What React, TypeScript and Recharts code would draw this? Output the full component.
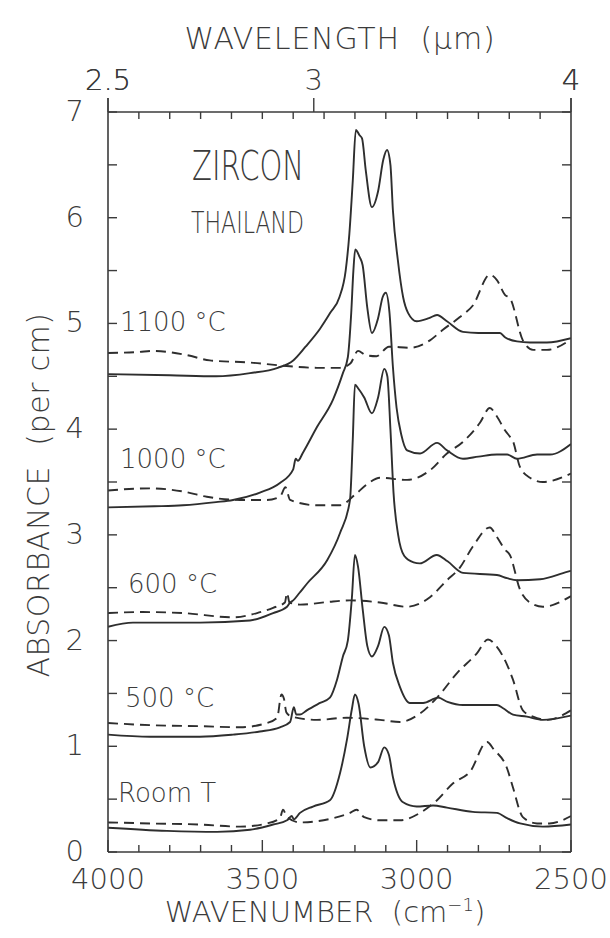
import React from 'react';
import { ComposedChart, Line, XAxis, YAxis } from 'recharts';

type P = [number, number];

// wavenumber (cm-1), absorbance (per cm, offset as plotted)
const room_solid: P[] = [
  [4000, 0.23], [3809, 0.2], [3647, 0.19], [3540, 0.21], [3465, 0.26], [3420, 0.3], [3405, 0.34], [3398, 0.31],
  [3378, 0.37], [3336, 0.43], [3281, 0.49], [3248, 0.75], [3226, 1.06], [3210, 1.35], [3200, 1.49], [3188, 1.4],
  [3170, 1.0], [3150, 0.8], [3125, 0.85], [3105, 0.99], [3090, 0.92], [3077, 0.71], [3044, 0.47], [3000, 0.43],
  [2947, 0.44], [2902, 0.42], [2818, 0.38], [2740, 0.37], [2707, 0.32], [2665, 0.27], [2591, 0.24], [2500, 0.26],
];
const room_dashed: P[] = [
  [4000, 0.28], [3864, 0.27], [3702, 0.26], [3572, 0.24], [3485, 0.27], [3443, 0.32], [3433, 0.4], [3420, 0.33],
  [3378, 0.28], [3271, 0.32], [3216, 0.37], [3195, 0.4], [3170, 0.33], [3119, 0.3], [3054, 0.3], [2989, 0.37],
  [2934, 0.49], [2882, 0.65], [2827, 0.76], [2772, 1.04], [2750, 0.97], [2707, 0.79], [2688, 0.61], [2656, 0.33],
  [2610, 0.27], [2570, 0.27], [2500, 0.34],
];
const c500_solid: P[] = [
  [4000, 1.11], [3864, 1.09], [3702, 1.09], [3595, 1.11], [3508, 1.14], [3443, 1.18], [3410, 1.23], [3398, 1.37],
  [3390, 1.3], [3378, 1.3], [3356, 1.34], [3313, 1.41], [3281, 1.46], [3258, 1.63], [3239, 1.85], [3223, 2.0],
  [3210, 2.4], [3200, 2.81], [3190, 2.7], [3175, 2.3], [3160, 1.95], [3145, 1.85], [3125, 1.95], [3105, 2.13],
  [3090, 2.05], [3077, 1.79], [3054, 1.56], [3022, 1.41], [2979, 1.41], [2931, 1.46], [2900, 1.42], [2850, 1.39],
  [2740, 1.39], [2720, 1.36], [2688, 1.3], [2643, 1.28], [2591, 1.25], [2500, 1.29],
];
const c500_dashed: P[] = [
  [4000, 1.22], [3864, 1.2], [3702, 1.19], [3572, 1.18], [3485, 1.22], [3452, 1.27], [3438, 1.49], [3430, 1.45],
  [3422, 1.32], [3404, 1.28], [3323, 1.25], [3226, 1.27], [3119, 1.25], [3054, 1.23], [2989, 1.31], [2931, 1.47],
  [2870, 1.69], [2805, 1.88], [2769, 2.01], [2740, 1.94], [2707, 1.77], [2688, 1.63], [2656, 1.34], [2623, 1.28],
  [2578, 1.25], [2500, 1.34],
];
const c600_solid: P[] = [
  [4000, 2.13], [3919, 2.17], [3702, 2.17], [3540, 2.19], [3465, 2.26], [3420, 2.32], [3410, 2.36], [3400, 2.38],
  [3380, 2.45], [3355, 2.54], [3290, 2.76], [3248, 3.02], [3216, 3.33], [3207, 3.9], [3200, 4.42], [3188, 4.38],
  [3170, 4.3], [3145, 4.15], [3125, 4.3], [3105, 4.57], [3095, 4.5], [3085, 4.0], [3075, 3.4], [3060, 3.0],
  [3040, 2.8], [3010, 2.74], [2990, 2.73], [2935, 2.81], [2900, 2.75], [2850, 2.64], [2740, 2.62], [2707, 2.59],
  [2675, 2.57], [2600, 2.58], [2513, 2.65], [2500, 2.66],
];
const c600_dashed: P[] = [
  [4000, 2.26], [3896, 2.27], [3757, 2.26], [3595, 2.22], [3517, 2.26], [3465, 2.31], [3427, 2.36], [3420, 2.45],
  [3412, 2.36], [3378, 2.34], [3271, 2.37], [3216, 2.38], [3119, 2.36], [3031, 2.32], [2957, 2.41], [2902, 2.57],
  [2860, 2.69], [2818, 2.89], [2763, 3.07], [2740, 2.98], [2714, 2.86], [2698, 2.81], [2665, 2.48], [2633, 2.36],
  [2591, 2.32], [2500, 2.42],
];
const c1000_solid: P[] = [
  [4000, 3.26], [3850, 3.27], [3757, 3.28], [3650, 3.31], [3595, 3.33], [3508, 3.4], [3443, 3.49], [3400, 3.62],
  [3392, 3.72], [3385, 3.7], [3368, 3.78], [3323, 4.02], [3271, 4.28], [3239, 4.53], [3223, 4.68], [3212, 5.1],
  [3205, 5.5], [3199, 5.7], [3185, 5.63], [3175, 5.55], [3160, 5.15], [3145, 4.91], [3125, 5.05], [3110, 5.25],
  [3100, 5.29], [3088, 5.1], [3077, 4.59], [3065, 4.2], [3050, 3.95], [3031, 3.8], [2989, 3.77], [2934, 3.87],
  [2902, 3.8], [2850, 3.72], [2800, 3.74], [2740, 3.76], [2707, 3.76], [2675, 3.72], [2610, 3.76], [2568, 3.76],
  [2500, 3.86],
];
const c1000_dashed: P[] = [
  [4000, 3.42], [3864, 3.44], [3757, 3.41], [3680, 3.36], [3572, 3.33], [3485, 3.33], [3443, 3.36], [3425, 3.45],
  [3410, 3.33], [3323, 3.28], [3248, 3.28], [3200, 3.38], [3160, 3.48], [3119, 3.54], [3031, 3.52], [2957, 3.61],
  [2902, 3.77], [2850, 3.88], [2795, 4.06], [2763, 4.2], [2740, 4.12], [2714, 3.99], [2698, 3.93], [2690, 3.9],
  [2665, 3.64], [2633, 3.54], [2591, 3.5], [2500, 3.58],
];
const c1100_solid: P[] = [
  [4000, 4.52], [3800, 4.51], [3650, 4.5], [3540, 4.53], [3450, 4.58], [3400, 4.65], [3360, 4.78], [3313, 4.95],
  [3280, 5.1], [3250, 5.25], [3230, 5.5], [3218, 5.85], [3207, 6.35], [3197, 6.83], [3185, 6.78], [3177, 6.75],
  [3165, 6.45], [3145, 6.1], [3125, 6.25], [3108, 6.55], [3096, 6.64], [3085, 6.5], [3077, 6.07], [3061, 5.6],
  [3044, 5.25], [3028, 5.1], [3000, 5.02], [2960, 5.05], [2934, 5.08], [2902, 5.02], [2850, 4.92], [2800, 4.91],
  [2730, 4.91], [2714, 4.87], [2675, 4.83], [2633, 4.82], [2578, 4.82], [2500, 4.86],
];
const c1100_dashed: P[] = [
  [4000, 4.72], [3900, 4.73], [3854, 4.74], [3744, 4.7], [3670, 4.65], [3540, 4.63], [3433, 4.6], [3323, 4.58],
  [3248, 4.58], [3215, 4.62], [3190, 4.74], [3165, 4.7], [3130, 4.69], [3090, 4.78], [3020, 4.77], [2957, 4.84],
  [2915, 4.94], [2860, 5.06], [2818, 5.17], [2763, 5.46], [2740, 5.41], [2714, 5.27], [2698, 5.24], [2656, 4.84],
  [2623, 4.75], [2578, 4.75], [2500, 4.85],
];

const seriesLabels = ['Room T', '500 °C', '600 °C', '1000 °C', '1100 °C'];
const wavenumberTicks = [2500, 2600, 2700, 2800, 2900, 3000, 3100, 3200, 3300, 3400, 3500, 3600, 3700, 3800, 3900, 4000];
const wavenumberLabels = [2500, 3000, 3500, 4000];
const wavelengthLabels = [2.5, 3, 4];
const absorbanceTicks = [0, 0.5, 1, 1.5, 2, 2.5, 3, 3.5, 4, 4.5, 5, 5.5, 6, 6.5, 7];
const absorbanceLabels = [0, 1, 2, 3, 4, 5, 6, 7];

const FONT = '"DejaVu Sans", "Liberation Sans", sans-serif';
const FW = 300;
const INK = '#3b3b3b';
const LINE = '#2e2e2e';
const TICK_FS = 29;

const wlAsWn = wavelengthLabels.map((um) => 10000 / um);
const topTicks = [...wavenumberTicks, ...wlAsWn].sort((a, b) => a - b);

const series = [
  { name: 'Room T', solid: room_solid, dashed: room_dashed },
  { name: '500', solid: c500_solid, dashed: c500_dashed },
  { name: '600', solid: c600_solid, dashed: c600_dashed },
  { name: '1000', solid: c1000_solid, dashed: c1000_dashed },
  { name: '1100', solid: c1100_solid, dashed: c1100_dashed },
];
const toRows = (pts: P[]) => pts.map(([w, a]) => ({ w, a }));

const txt = { fontFamily: FONT, fontWeight: FW, fill: INK } as const;

const BottomTick = (props: any) => {
  const { x, y, payload } = props;
  const v = payload.value;
  const isLab = wavenumberLabels.includes(v);
  return (
    <g>
      <line x1={x} x2={x} y1={y} y2={y - (isLab ? 12 : 7)} stroke={INK} strokeWidth={1.4} />
      {isLab && (
        <text x={x} y={y + 37} textAnchor="middle" fontSize={TICK_FS} {...txt}>
          {v}
        </text>
      )}
    </g>
  );
};

const TopTick = (props: any) => {
  const { x, y, payload } = props;
  const v = payload.value;
  const idx = wlAsWn.findIndex((m) => Math.abs(m - v) < 0.5);
  if (idx >= 0) {
    return (
      <g>
        <line x1={x} x2={x} y1={y} y2={y - 14} stroke={INK} strokeWidth={1.4} />
        <text x={x} y={y - 22} textAnchor="middle" fontSize={TICK_FS} {...txt}>
          {wavelengthLabels[idx]}
        </text>
      </g>
    );
  }
  return <line x1={x} x2={x} y1={y} y2={y + 7} stroke={INK} strokeWidth={1.4} />;
};

const LeftTick = (props: any) => {
  const { x, y, payload } = props;
  const v = payload.value;
  const isLab = absorbanceLabels.includes(v);
  return (
    <g>
      <line x1={x} x2={x + 9} y1={y} y2={y} stroke={INK} strokeWidth={1.4} />
      {isLab && (
        <text x={x - 24} y={y + 9} textAnchor="end" fontSize={TICK_FS} {...txt}>
          {v}
        </text>
      )}
    </g>
  );
};

const RightTick = (props: any) => {
  const { x, y } = props;
  return <line x1={x} x2={x - 9} y1={y} y2={y} stroke={INK} strokeWidth={1.4} />;
};

const labelPos: { x: number; y: number }[] = [
  { x: 118, y: 802 },
  { x: 125, y: 707 },
  { x: 128, y: 593 },
  { x: 120, y: 468 },
  { x: 120, y: 331 },
];

export default function App() {
  return (
    <div style={{ width: 610, height: 938, background: '#fff', position: 'relative' }}>
      <style>{`html,body{margin:0;padding:0;overflow:hidden;background:#fff}`}</style>
      <ComposedChart width={610} height={938} margin={{ top: 0, right: 0, bottom: 0, left: 0 }}>
        <XAxis
          xAxisId="bottom"
          dataKey="w"
          type="number"
          domain={[2500, 4000]}
          reversed
          orientation="bottom"
          height={86}
          ticks={wavenumberTicks}
          interval={0}
          tickSize={0}
          tickMargin={0}
          tickLine={false}
          tick={BottomTick}
          axisLine={{ stroke: INK, strokeWidth: 1.6 }}
          allowDataOverflow
        />
        <XAxis
          xAxisId="top"
          dataKey="w"
          type="number"
          domain={[2500, 4000]}
          reversed
          orientation="top"
          height={112}
          ticks={topTicks}
          interval={0}
          tickSize={0}
          tickMargin={0}
          tickLine={false}
          tick={TopTick}
          axisLine={{ stroke: INK, strokeWidth: 1.6 }}
          allowDataOverflow
        />
        <YAxis
          yAxisId="left"
          type="number"
          domain={[0, 7]}
          orientation="left"
          width={108}
          ticks={absorbanceTicks}
          interval={0}
          tickSize={0}
          tickMargin={0}
          tickLine={false}
          tick={LeftTick}
          axisLine={{ stroke: INK, strokeWidth: 1.6 }}
          allowDataOverflow
        />
        <YAxis
          yAxisId="right"
          type="number"
          domain={[0, 7]}
          orientation="right"
          width={39}
          ticks={absorbanceTicks}
          interval={0}
          tickSize={0}
          tickMargin={0}
          tickLine={false}
          tick={RightTick}
          axisLine={{ stroke: INK, strokeWidth: 1.6 }}
          allowDataOverflow
        />
        {series.map((s) => (
          <Line
            key={s.name + '-d'}
            data={toRows(s.dashed)}
            dataKey="a"
            xAxisId="bottom"
            yAxisId="left"
            type="monotone"
            dot={false}
            activeDot={false}
            stroke={LINE}
            strokeWidth={1.9}
            strokeDasharray="10 6"
            isAnimationActive={false}
          />
        ))}
        {series.map((s) => (
          <Line
            key={s.name + '-s'}
            data={toRows(s.solid)}
            dataKey="a"
            xAxisId="bottom"
            yAxisId="left"
            type="monotone"
            dot={false}
            activeDot={false}
            stroke={LINE}
            strokeWidth={1.9}
            isAnimationActive={false}
          />
        ))}
        {seriesLabels.map((t, i) => (
          <text key={t} x={labelPos[i].x} y={labelPos[i].y} fontSize={26} {...txt}>
            {t}
          </text>
        ))}
        <text x={192} y={180} fontSize={40} textLength={112} lengthAdjust="spacingAndGlyphs" {...txt}>
          ZIRCON
        </text>
        <text x={191} y={233} fontSize={31} textLength={113} lengthAdjust="spacingAndGlyphs" {...txt}>
          THAILAND
        </text>
        <text x={340} y={49} textAnchor="middle" fontSize={30} letterSpacing={0.8} style={{ whiteSpace: 'pre' }} {...txt}>
          WAVELENGTH  (µm)
        </text>
        <text x={325} y={922} textAnchor="middle" fontSize={29} style={{ whiteSpace: 'pre' }} {...txt}>
          <tspan>WAVENUMBER  (cm</tspan>
          <tspan dy={-11} fontSize={18}>−1</tspan>
          <tspan dy={11}>)</tspan>
        </text>
        <text
          x={0}
          y={0}
          transform="translate(49,495) rotate(-90)"
          textAnchor="middle"
          fontSize={30}
          letterSpacing={0.6}
          style={{ whiteSpace: 'pre' }}
          {...txt}
        >
          ABSORBANCE  (per cm)
        </text>
      </ComposedChart>
    </div>
  );
}
